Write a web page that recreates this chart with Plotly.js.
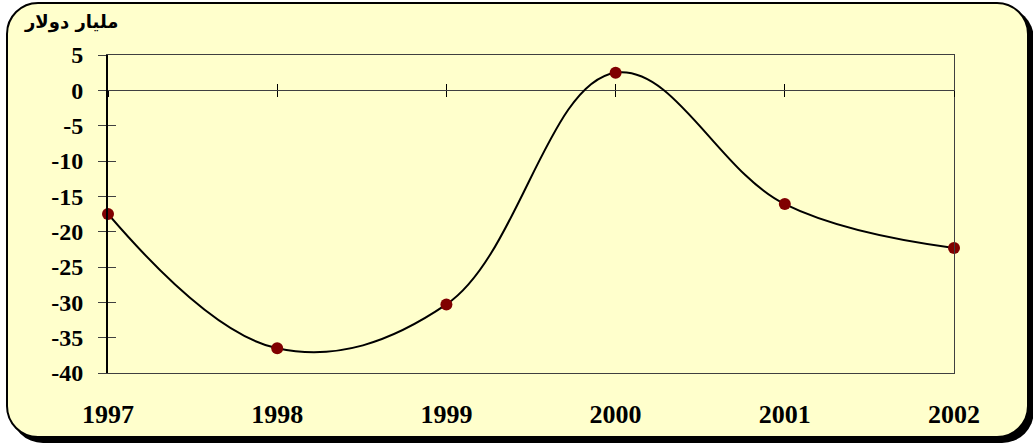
<!DOCTYPE html>
<html>
<head>
<meta charset="utf-8">
<script src="https://cdn.plot.ly/plotly-3.0.1.min.js"></script>
<style>
  html, body { margin:0; padding:0; background:#ffffff; width:1033px; height:447px; overflow:hidden; }
  #frame { position:absolute; left:6px; top:2px; width:1019px; height:432px; background:#FFFFCC;
           border:2px solid #000; border-radius:32px; box-shadow:5px 5px 0 #000; }
  #chart { position:absolute; left:0; top:0; width:1033px; height:447px; }
</style>
</head>
<body>
<div id="frame"></div>
<div id="chart"></div>
<script>
const years = [1997, 1998, 1999, 2000, 2001, 2002];
const values = [-17.5, -36.5, -30.3, 2.5, -16.1, -22.3];
const yTicks = [5, 0, -5, -10, -15, -20, -25, -30, -35, -40];
const yTickLabels = ['5', '0', '-5', '-10', '-15', '-20', '-25', '-30', '-35', '-40'];
const yTitle = 'مليار دولار';

const labelFont = {family: '"Liberation Serif", "Times New Roman", serif', size: 25, color: '#000', weight: 'bold'};

const traces = [
  {x: years, y: values, xaxis: 'x2', yaxis: 'y2', mode: 'lines', type: 'scatter', opacity: 0, hoverinfo: 'skip'},
  {x: years, y: values, xaxis: 'x3', yaxis: 'y3', mode: 'lines', type: 'scatter', opacity: 0, hoverinfo: 'skip'},
  {x: years, y: values, xaxis: 'x', yaxis: 'y', mode: 'lines+markers', type: 'scatter',
   line: {color: '#000', width: 2, shape: 'spline', smoothing: 1.1},
   marker: {color: '#800000', size: 12}, hoverinfo: 'skip', cliponaxis: false}
];

const zeroPos = (0 - (-40)) / (5 - (-40));

const layout = {
  width: 1033, height: 447,
  margin: {l: 108, r: 79, t: 55, b: 74},
  paper_bgcolor: 'rgba(0,0,0,0)',
  plot_bgcolor: 'rgba(0,0,0,0)',
  showlegend: false,
  xaxis: {range: [1997, 2002], tickvals: years, ticktext: years.map(String),
          ticks: 'outside', ticklen: 18, tickcolor: 'rgba(0,0,0,0)',
          showline: true, linecolor: '#404040', linewidth: 1, mirror: true,
          showgrid: false, zeroline: false, tickfont: Object.assign({}, labelFont, {size: 26}),
          fixedrange: true},
  xaxis2: {overlaying: 'x', anchor: 'free', position: zeroPos, range: [1997, 2002],
           tickvals: years, ticks: 'outside', ticklen: 6, tickcolor: '#000', tickwidth: 1,
           showticklabels: false, showline: false, showgrid: false, zeroline: false},
  xaxis3: {overlaying: 'x', anchor: 'free', position: zeroPos, range: [1997, 2002],
           tickvals: years, ticks: 'inside', ticklen: 6, tickcolor: '#000', tickwidth: 1,
           showticklabels: false, showline: false, showgrid: false, zeroline: false},
  yaxis: {range: [-40, 5], tickvals: yTicks, ticktext: yTickLabels,
          ticks: 'outside', ticklen: 8, tickcolor: '#404040', tickwidth: 1,
          showline: true, linecolor: '#000', linewidth: 2,
          showgrid: false, zeroline: true, zerolinecolor: '#404040', zerolinewidth: 1,
          ticklabelstandoff: 10, tickfont: Object.assign({}, labelFont, {size: 24}),
          fixedrange: true},
  yaxis2: {overlaying: 'y', side: 'left', range: [-40, 5], tickvals: yTicks,
           ticks: 'inside', ticklen: 8, tickcolor: '#404040', tickwidth: 1,
           showticklabels: false, showline: true, linecolor: '#000', linewidth: 2,
           showgrid: false, zeroline: false},
  yaxis3: {overlaying: 'y', side: 'right', range: [-40, 5], ticks: '',
           showticklabels: false, showline: true, linecolor: '#404040', linewidth: 1,
           showgrid: false, zeroline: false},
  annotations: [
    {text: yTitle, xref: 'paper', yref: 'paper', x: 0.0142, y: 1.104,
     xanchor: 'right', yanchor: 'middle', showarrow: false,
     font: {family: '"DejaVu Sans", "Noto Sans", sans-serif', size: 18, color: '#000', weight: 'bold'}}
  ]
};

Plotly.newPlot('chart', traces, layout, {displayModeBar: false, staticPlot: true});
</script>
</body>
</html>
